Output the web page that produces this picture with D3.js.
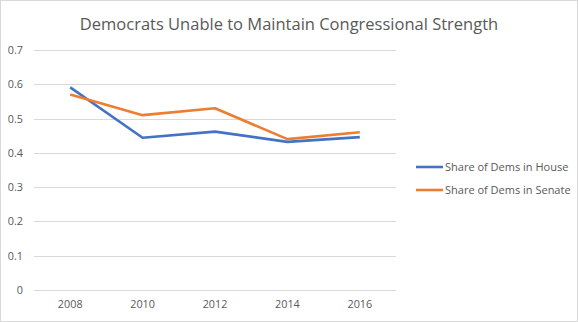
<!DOCTYPE html>
<meta charset="utf-8">
<style>
body { margin: 0; background: #fff; }
text { font-family: "Open Sans", "Noto Sans", sans-serif; fill: #595959; }
.grid line { stroke: #d9d9d9; stroke-width: 1px; shape-rendering: crispEdges; }
.line { fill: none; stroke-width: 2.6px; stroke-linejoin: round; }
</style>
<body>
<script src="https://d3js.org/d3.v7.min.js"></script>
<script>

// Data
var years = ["2008", "2010", "2012", "2014", "2016"];
var houseShare = [0.591, 0.444, 0.462, 0.432, 0.446];
var senateShare = [0.57, 0.51, 0.53, 0.44, 0.46];
var yTicks = [0, 0.1, 0.2, 0.3, 0.4, 0.5, 0.6, 0.7];

var series = [
  {name: "Share of Dems in House", values: houseShare, color: "#4472C4"},
  {name: "Share of Dems in Senate", values: senateShare, color: "#ED7D31"}
];

var W = 578, H = 322;
var plot = {left: 34, right: 396, top: 50, bottom: 290};

var svg = d3.select("body").append("svg")
    .attr("width", W)
    .attr("height", H);

// chart frame
svg.append("rect")
    .attr("x", 0.5).attr("y", 0.5)
    .attr("width", W - 1).attr("height", H - 1)
    .attr("fill", "#fff")
    .attr("stroke", "#d9d9d9");

svg.append("text")
    .attr("x", 289)
    .attr("y", 30)
    .attr("text-anchor", "middle")
    .attr("font-size", "16.5px")
    .text("Democrats Unable to Maintain Congressional Strength");

var x = d3.scaleBand().domain(years).range([plot.left, plot.right]);
var y = d3.scaleLinear().domain([0, 0.7]).range([plot.bottom, plot.top]);

// gridlines
svg.append("g")
    .attr("class", "grid")
  .selectAll("line")
  .data(yTicks)
  .enter().append("line")
    .attr("x1", plot.left)
    .attr("x2", plot.right)
    .attr("y1", function(d) { return Math.round(y(d)) + 0.5; })
    .attr("y2", function(d) { return Math.round(y(d)) + 0.5; });

// y labels
var yAxis = d3.axisLeft(y).tickValues(yTicks).tickSize(0).tickPadding(0)
    .tickFormat(function(d) { return d === 0 ? "0" : d3.format(".1f")(d); });
var yg = svg.append("g")
    .attr("transform", "translate(23,0)")
    .call(yAxis);
yg.select(".domain").remove();
yg.selectAll("text").attr("font-size", "10.8px").attr("font-family", null).attr("fill", null);

// x labels
var xAxis = d3.axisBottom(x).tickSize(0).tickPadding(0);
var xg = svg.append("g")
    .attr("transform", "translate(0,300)")
    .call(xAxis);
xg.select(".domain").remove();
xg.selectAll("text").attr("font-size", "10.8px").attr("font-family", null).attr("fill", null);

var line = d3.line()
    .x(function(d, i) { return x(years[i]) + x.bandwidth() / 2; })
    .y(function(d) { return y(d); });

svg.selectAll(".line")
  .data(series)
  .enter().append("path")
    .attr("class", "line")
    .attr("stroke", function(d) { return d.color; })
    .attr("d", function(d) { return line(d.values); });

// legend
var legend = svg.selectAll(".legend")
  .data(series)
  .enter().append("g")
    .attr("class", "legend")
    .attr("transform", function(d, i) { return "translate(416," + (167 + i * 23) + ")"; });

legend.append("line")
    .attr("x1", 0).attr("x2", 27)
    .attr("stroke", function(d) { return d.color; })
    .attr("stroke-width", 2.6);

legend.append("text")
    .attr("x", 29)
    .attr("dy", "0.35em")
    .attr("font-size", "11px")
    .text(function(d) { return d.name; });

</script>
</body>
